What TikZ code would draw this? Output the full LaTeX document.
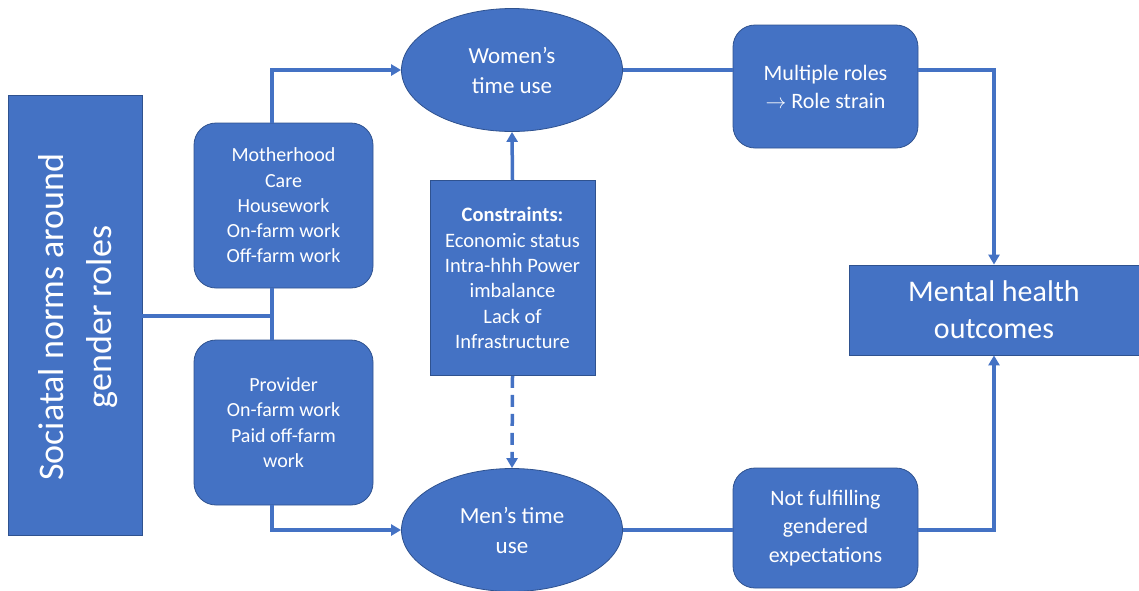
\documentclass[tikz,border=0pt]{standalone}
\usepackage{fontspec}
\setmainfont{Carlito}
\usetikzlibrary{shapes.geometric,arrows.meta}
\definecolor{boxblue}{HTML}{4472C4}
\definecolor{edgeblue}{HTML}{2F528F}

\begin{document}
\begin{tikzpicture}[x=1pt,y=-1pt,
    blk/.style={draw=edgeblue, line width=0.8pt, fill=boxblue, text=white, align=center, inner sep=0pt},
    sqbox/.style={blk, rectangle},
    rbox/.style={blk, rectangle, rounded corners=22pt},
    oval/.style={blk, ellipse},
    link/.style={boxblue, line width=3.5pt},
    arr/.style={link, -{Triangle[length=10pt,width=11pt]}}]
    \useasboundingbox (0,0) rectangle (1139,590);
    % left: norms box
    \node[sqbox, minimum width=134pt, minimum height=440pt] (norms) at (75,315) {};
    \node[rotate=90, text=white, align=center, font=\fontsize{36}{48}\selectfont] (normstext) at (78,317) {Sociatal norms around\\gender roles};
    % role boxes
    \node[rbox, minimum width=179pt, minimum height=165pt, font=\fontsize{20}{25.3}\selectfont] (motherhood) at (283.5,205.5)
        {Motherhood\\Care\\Housework\\On-farm work\\Off-farm work};
    \node[rbox, minimum width=179pt, minimum height=165pt, font=\fontsize{20}{25.3}\selectfont] (provider) at (283.5,422.5)
        {Provider\\On-farm work\\Paid off-farm\\work};
    % time use
    \node[oval, minimum width=221pt, minimum height=123pt, font=\fontsize{23}{30}\selectfont] (women) at (512,70) {Women’s\\time use};
    \node[oval, minimum width=221pt, minimum height=123pt, font=\fontsize{23}{30}\selectfont] (men) at (512,530) {Men’s time\\use};
    \node[sqbox, minimum width=165pt, minimum height=195pt, font=\fontsize{20.5}{25.3}\selectfont] (constraints) at (512.5,278)
        {\textbf{Constraints:}\\Economic status\\Intra-hhh Power\\imbalance\\Lack of\\Infrastructure};
    % right side
    \node[rbox, minimum width=185pt, minimum height=123pt, font=\fontsize{22}{28}\selectfont] (multiple) at (825.5,86.5)
        {Multiple roles\\$\rightarrow$ Role strain};
    \node[rbox, minimum width=185pt, minimum height=120pt, font=\fontsize{22}{28.5}\selectfont] (notful) at (825.5,528)
        {Not fulfilling\\gendered\\expectations};
    \node[sqbox, minimum width=290pt, minimum height=90pt, font=\fontsize{30}{37}\selectfont] (mental) at (994,310)
        {Mental health\\outcomes};
    % connectors
    \coordinate (spine) at (272,316);
    \draw[link] (norms.east |- spine) -- (spine);
    \draw[link] (spine |- motherhood.south) -- (spine |- provider.north);
    \draw[arr] (spine |- motherhood.north) -- (spine |- women.west) -- (women.west);
    \draw[arr] (spine |- provider.south) -- (spine |- men.west) -- (men.west);
    \draw[arr] (constraints.north) -- (women.south);
    \draw[arr, dash pattern=on 12pt off 7pt] (constraints.south) -- (men.north);
    \draw[link] (women.east) -- (women.east -| multiple.west);
    \draw[link] (men.east) -- (men.east -| notful.west);
    \draw[arr] (multiple.east |- women.east) -- (mental.north |- women.east) -- (mental.north);
    \draw[arr] (notful.east |- men.east) -- (mental.south |- men.east) -- (mental.south);
\end{tikzpicture}
\end{document}
